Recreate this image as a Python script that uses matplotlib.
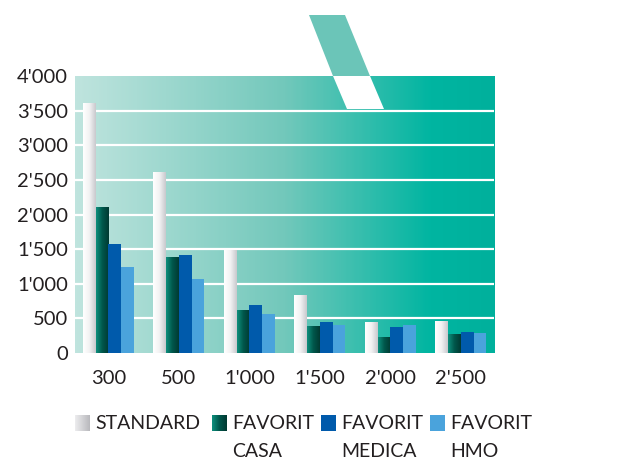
import matplotlib.pyplot as plt
import numpy as np
from matplotlib.colors import LinearSegmentedColormap
from matplotlib.patches import Polygon

# 数据
groups = ["300", "500", "1'000", "1'500", "2'000", "2'500"]
series = ["STANDARD", "FAVORIT\nCASA", "FAVORIT\nMEDICA", "FAVORIT\nHMO"]
standard = [3600, 2600, 1480, 830, 440, 450]
casa = [2100, 1380, 610, 380, 230, 260]
medica = [1570, 1410, 700, 450, 370, 310]
hmo = [1240, 1070, 570, 410, 400, 290]
yticks = [0, 500, 1000, 1500, 2000, 2500, 3000, 3500, 4000]

txt = '#231f20'
plt.rcParams['font.family'] = ['Lato', 'DejaVu Sans']

W, H = 622, 463
fig = plt.figure(figsize=(W / 100, H / 100), dpi=100)
ax = fig.add_axes([75 / W, 1 - 353 / H, 419 / W, (353 - 76) / H])

xlim = (-0.475, 5.47)
ylim = (0, 4000)

# 背景渐变
bg = LinearSegmentedColormap.from_list('bg', [(0, '#bfe4de'), (0.5, '#72c8bb'),
                                              (0.85, '#00b5a1'), (1, '#00b09c')])
ax.imshow(bg(np.linspace(0, 1, 300))[None, :, :], extent=[*xlim, *ylim],
          aspect='auto', zorder=0)

for v in yticks[1:-1]:
    ax.axhline(v, color='white', lw=1.6, zorder=1)

# 柱子的渐变色
grads = [
    LinearSegmentedColormap.from_list('s', ['#ffffff', '#f2f2f3', '#c9c9cd']),
    LinearSegmentedColormap.from_list('c', ['#0e8f7d', '#00574b', '#003a32']),
    None, None,
]
solid = [None, None, '#005aab', '#4aa3dc']
data = [standard, casa, medica, hmo]
w = 0.181
x = np.arange(len(groups))
for k, vals in enumerate(data):
    xs = x + (k - 1.5) * w
    if grads[k] is None:
        ax.bar(xs, vals, width=w, color=solid[k], zorder=3, linewidth=0)
    else:
        for xi, v in zip(xs, vals):
            ax.imshow(grads[k](np.linspace(0, 1, 50))[None, :, :],
                      extent=[xi - w / 2, xi + w / 2, 0, v],
                      aspect='auto', zorder=3)

ax.set_xlim(*xlim)
ax.set_ylim(*ylim)
for s in ax.spines.values():
    s.set_visible(False)
ax.set_xticks(x)
ax.set_xticklabels(groups)
ax.set_yticks(yticks)
ax.set_yticklabels([f"{v:,}".replace(",", "'") for v in yticks])
ax.tick_params(length=0, labelsize=14.5, labelcolor=txt)
ax.tick_params(axis='y', pad=5)
ax.tick_params(axis='x', pad=12)

# 顶部的斜条
def fp(pts):
    return [(px / W, 1 - py / H) for px, py in pts]

fig.patches.append(Polygon(fp([(309, 15), (345, 15), (370, 76), (333, 76)]),
                           closed=True, color='#6bc5b8', lw=0,
                           transform=fig.transFigure, figure=fig))
fig.patches.append(Polygon(fp([(333, 76), (370, 76), (384, 109), (347, 109)]),
                           closed=True, color='white', lw=0,
                           transform=fig.transFigure, figure=fig, zorder=5))

# 图例
legend_x = [75, 212, 321, 430]
legend_cmaps = [
    LinearSegmentedColormap.from_list('ls', ['#ececee', '#b9b9bd']),
    grads[1], None, None,
]
for k, name in enumerate(series):
    bx = legend_x[k]
    lax = fig.add_axes([bx / W, 1 - 431 / H, 15 / W, 16 / H])
    lax.set_axis_off()
    if legend_cmaps[k] is None:
        lax.imshow(np.array([[0]]), cmap=LinearSegmentedColormap.from_list(
            'one', [solid[k], solid[k]]), aspect='auto')
    else:
        lax.imshow(legend_cmaps[k](np.linspace(0, 1, 30))[None, :, :], aspect='auto')
    fig.text((bx + 20) / W, 1 - 415 / H, name, ha='left', va='top',
             fontsize=14, color=txt, linespacing=1.8)

fig.savefig('out.png', dpi=100)
